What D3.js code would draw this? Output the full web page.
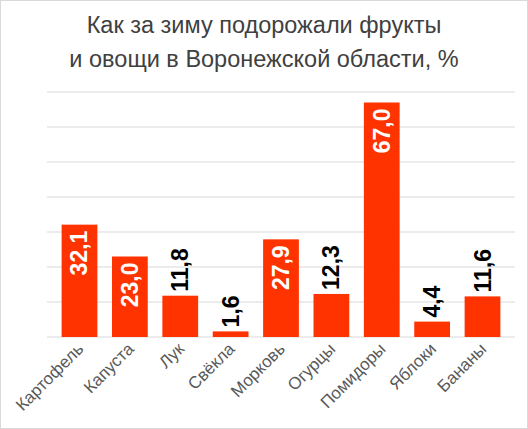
<!DOCTYPE html>
<html><head><meta charset="utf-8">
<script src="https://cdn.jsdelivr.net/npm/d3@7"></script>
<style>body{margin:0;background:#fff;font-family:"Liberation Sans",Arial,sans-serif}</style>
</head><body><svg id="chart" width="528" height="429"></svg>
<script>
const categories = ["Картофель","Капуста","Лук","Свёкла","Морковь","Огурцы","Помидоры","Яблоки","Бананы"];
const values = [32.1, 23.0, 11.8, 1.6, 27.9, 12.3, 67.0, 4.4, 11.6];
const gridTicks = [0,10,20,30,40,50,60,70];

let svg = d3.select("#chart");
svg.append("rect").attr("x",0.5).attr("y",0.5).attr("width",527).attr("height",428)
    .attr("fill","#fff").attr("stroke","#d9d9d9");

svg.append("text").attr("x",264).attr("y",33).attr("text-anchor","middle")
    .attr("font-size",23.5).attr("fill","#404040").text("Как за зиму подорожали фрукты");
svg.append("text").attr("x",264).attr("y",67).attr("text-anchor","middle")
    .attr("font-size",23.5).attr("fill","#404040").text("и овощи в Воронежской области, %");

let x = d3.scaleBand().domain(categories).range([47,515]).padding(0.29);
let y = d3.scaleLinear().domain([0,70]).range([337,92]);

svg.selectAll("line.grid").data(gridTicks).enter().append("line")
    .attr("x1",47).attr("x2",515)
    .attr("y1",d => y(d)).attr("y2",d => y(d))
    .attr("stroke","#d9d9d9").attr("stroke-width",1);

svg.selectAll("rect.bar").data(values).enter().append("rect")
    .attr("x",(d,i) => x(categories[i]))
    .attr("y",d => y(d))
    .attr("width",x.bandwidth())
    .attr("height",d => y(0) - y(d))
    .attr("fill","#ff3300");

// value labels, rotated
svg.selectAll("text.val").data(values).enter().append("text")
    .attr("transform",(d,i) => {
        let cx = x(categories[i]) + x.bandwidth()/2 + 8;
        let ty = d >= 20 ? y(d) + 6 : y(d) - 4;
        return "translate(" + cx + "," + ty + ") rotate(-90)";
    })
    .attr("text-anchor",d => d >= 20 ? "end" : "start")
    .attr("font-size",23).attr("font-weight","bold")
    .attr("fill",d => d >= 20 ? "#fff" : "#000")
    .text(d => d.toFixed(1).replace(".",","));

// category labels
svg.selectAll("text.cat").data(categories).enter().append("text")
    .attr("transform",d => "translate(" + (x(d) + x.bandwidth()/2 + 5) + ",350) rotate(-45)")
    .attr("text-anchor","end")
    .attr("font-size",17).attr("fill","#595959")
    .text(d => d);
</script></body></html>
